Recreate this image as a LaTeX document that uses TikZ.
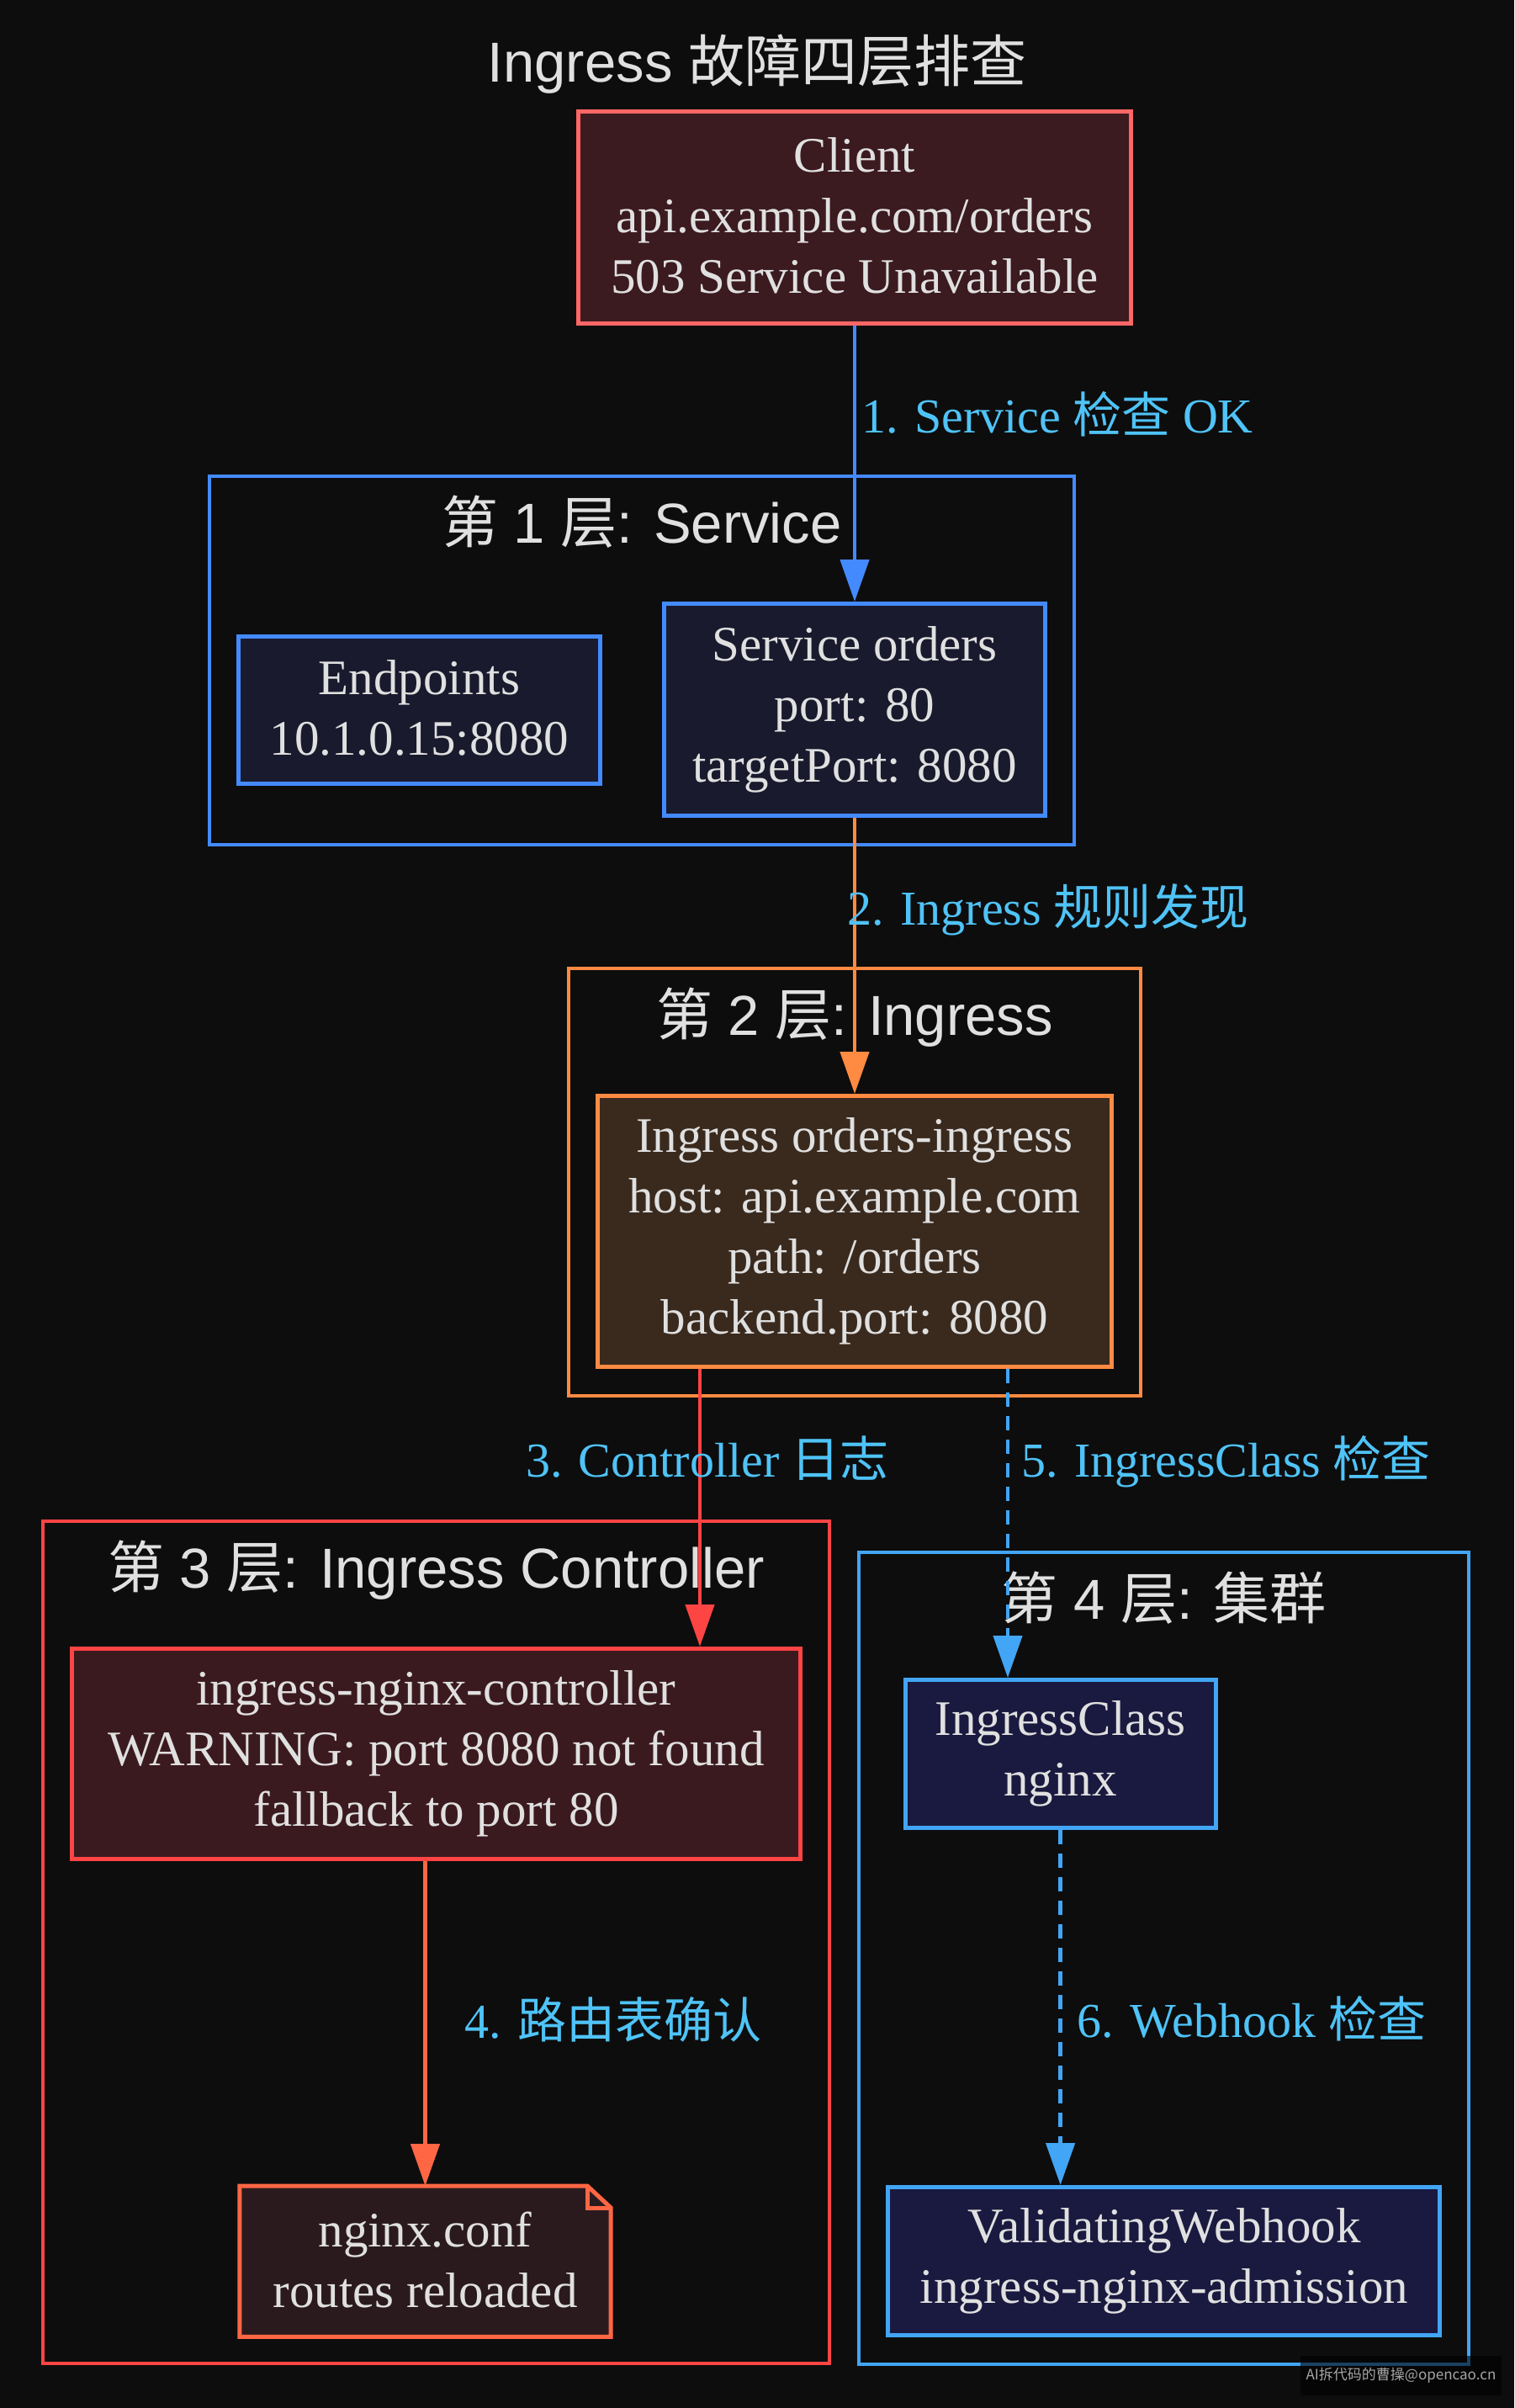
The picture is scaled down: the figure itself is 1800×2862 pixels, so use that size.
\documentclass[tikz,border=0pt]{standalone}
\usepackage{fontspec}
\setmainfont{Liberation Serif}
\setsansfont{Liberation Sans}
\newfontfamily\cjk{Noto Sans CJK SC}
\usetikzlibrary{positioning, fit, arrows.meta}

\newcommand{\zh}[1]{{\cjk #1}}
\newcommand{\boxstrut}{\rule[-4.5pt]{0pt}{68pt}}

\definecolor{bgcol}{HTML}{0D0D0D}
\definecolor{txtcol}{HTML}{E0E0E0}
\definecolor{lblcol}{HTML}{4FC3F7}
\definecolor{clientred}{HTML}{FF6666}
\definecolor{clientfill}{HTML}{3B1A20}
\definecolor{svcblue}{HTML}{448AFF}
\definecolor{svcfill}{HTML}{1A1A2E}
\definecolor{ingorange}{HTML}{FF8A42}
\definecolor{ingfill}{HTML}{3A2A1E}
\definecolor{ctlred}{HTML}{FF4444}
\definecolor{ctlfill}{HTML}{3B1A1F}
\definecolor{notered}{HTML}{FF6644}
\definecolor{notefill}{HTML}{2A1A1E}
\definecolor{clsblue}{HTML}{42A5F5}
\definecolor{clsfill}{HTML}{1A1A40}

\tikzstyle{box} = [rectangle, draw, line width=5pt, text=txtcol, align=center, inner sep=0pt, font=\fontsize{59}{72}\selectfont, execute at begin node=\boxstrut, execute at end node=\boxstrut]
\tikzstyle{notebox} = [rectangle, text=txtcol, align=center, inner sep=0pt, font=\fontsize{59}{72}\selectfont, execute at begin node=\boxstrut, execute at end node=\boxstrut]
\tikzstyle{cluster} = [rectangle, draw, line width=4pt, inner sep=32pt]
\tikzstyle{clusterlabel} = [text=txtcol, anchor=base, inner sep=0pt, font=\sffamily\fontsize{67}{80}\selectfont]
\tikzstyle{arrow} = [line width=4.5pt, ->, >={Triangle[length=50pt, width=34pt]}]
\tikzstyle{dasharrow} = [arrow, dash pattern=on 17pt off 11pt]
\tikzstyle{edgelabel} = [text=lblcol, anchor=base west, inner sep=0pt, font=\fontsize{58}{72}\selectfont]

\begin{document}
\begin{tikzpicture}[x=1pt, y=-1pt]

	% page - - - - - - - - - - - - - - - - - - - - - - - - - - - - - - - - - -
	\useasboundingbox (0,0) rectangle (1800,2862);
	\fill[bgcol] (0,0) rectangle (1800,2862);

	\node(title) [clusterlabel] at (900,97) {Ingress \zh{故障四层排查}};

	% Client
	\node(client) [box, draw=clientred, fill=clientfill, minimum width=657pt, minimum height=252pt] at (1016,258.5)
		{Client\\api.example.com/orders\\503 Service Unavailable};

	% LAYER 1 . . . . . . . . . . . . . . . . . . . . . . . . . . . . . . . . .
	\node(svc) [box, draw=svcblue, fill=svcfill, minimum width=453pt, minimum height=252pt, below=328pt of client]
		{Service orders\\port: 80\\targetPort: 8080};
	\node(endp) [box, draw=svcblue, fill=svcfill, minimum width=430pt, minimum height=175pt, left=71pt of svc]
		{Endpoints\\10.1.0.15:8080};

	% LAYER 2 . . . . . . . . . . . . . . . . . . . . . . . . . . . . . . . . .
	\node(ingress) [box, draw=ingorange, fill=ingfill, minimum width=611pt, minimum height=322pt, below=328pt of svc]
		{Ingress orders-ingress\\host: api.example.com\\path: /orders\\backend.port: 8080};

	% LAYER 3 . . . . . . . . . . . . . . . . . . . . . . . . . . . . . . . . .
	\node(ctrl) [box, draw=ctlred, fill=ctlfill, minimum width=866pt, minimum height=250pt] at (518.5,2084.5)
		{ingress-nginx-controller\\WARNING: port 8080 not found\\fallback to port 80};
	\node(note) [notebox, fill=notefill, minimum width=441pt, minimum height=179pt, below=386pt of ctrl, xshift=-13pt]
		{nginx.conf\\routes reloaded};
	% folded corner
	\fill[bgcol] ([xshift=-28pt]note.north east) -- (note.north east) -- ([yshift=-26pt]note.north east) -- cycle;
	\draw[notered, line width=5pt, line join=miter] (note.north west) -- ([xshift=-28pt]note.north east)
		-- ([yshift=-26pt]note.north east) -- (note.south east) -- (note.south west) -- cycle;
	\draw[notered, line width=5pt] ([xshift=-28pt]note.north east) |- ([yshift=-26pt]note.north east);

	% LAYER 4 . . . . . . . . . . . . . . . . . . . . . . . . . . . . . . . . .
	\node(ic) [box, draw=clsblue, fill=clsfill, minimum width=369pt, minimum height=176pt, right=119.6pt of ctrl]
		{IngressClass\\nginx};
	\node(webhook) [box, draw=clsblue, fill=clsfill, minimum width=656pt, minimum height=176pt, below=422pt of ic, xshift=123.3pt]
		{ValidatingWebhook\\ingress-nginx-admission};

	% Clusters - - - - - - - - - - - - - - - - - - - - - - - - - - - - - - - - -
	\coordinate(c1top) at ([yshift=117pt]svc.north);
	\coordinate(c2top) at ([yshift=117pt]ingress.north);
	\coordinate(c3top) at ([yshift=117pt]ctrl.north);
	\coordinate(c4top) at ([yshift=117pt]ic.north);

	\node(layer1) [cluster, draw=svcblue, fit=(endp)(svc)(c1top)] {};
	\node(layer2) [cluster, draw=ingorange, fit=(ingress)(c2top)] {};
	\node(layer3) [cluster, draw=ctlred, fit=(ctrl)(note)(c3top)] {};
	\node(layer4) [cluster, draw=clsblue, fit=(ic)(webhook)(c4top)] {};

	\node(l1name) [clusterlabel] at ([yshift=-81pt]layer1.north) {\zh{第} 1 \zh{层}: Service};
	\node(l2name) [clusterlabel] at ([yshift=-81pt]layer2.north) {\zh{第} 2 \zh{层}: Ingress};
	\node(l3name) [clusterlabel] at ([yshift=-81pt]layer3.north) {\zh{第} 3 \zh{层}: Ingress Controller};
	\node(l4name) [clusterlabel] at ([yshift=-81pt]layer4.north) {\zh{第} 4 \zh{层}: \zh{集群}};

	% Arrows - - - - - - - - - - - - - - - - - - - - - - - - - - - - - - - - - -
	\draw[arrow, color=svcblue](client)--node[edgelabel, pos=0.39, xshift=6pt]{1. Service \zh{检查} OK}(svc);
	\draw[arrow, color=ingorange](svc)--node[edgelabel, pos=0.39, xshift=-10.5pt]{2. Ingress \zh{规则发现}}(ingress);
	\draw[arrow, color=ctlred]([xshift=-184pt]ingress.south)
		--node[edgelabel, anchor=base, pos=0.39, xshift=9pt]{3. Controller \zh{日志}}([xshift=-184pt]ingress.south |- ctrl.north);
	\draw[arrow, color=notered](ctrl.south -| note.north)--node[edgelabel, pos=0.544, xshift=45pt]{4. \zh{路由表确认}}(note.north);
	\draw[dasharrow, color=clsblue]([xshift=182pt]ingress.south)
		--node[edgelabel, pos=0.35, xshift=14pt]{5. IngressClass \zh{检查}}([xshift=182pt]ingress.south |- ic.north);
	\draw[dasharrow, color=clsblue](ic.south)--node[edgelabel, pos=0.585, xshift=18pt]{6. Webhook \zh{检查}}(ic.south |- webhook.north);

	% watermark
	\node(wmark) [fill=black, fill opacity=0.6, text opacity=1, text=gray!70, minimum width=239pt, minimum height=47pt, inner sep=0pt, font=\cjk\fontsize{17}{20}\selectfont] at (1665.5,2823.5)
		{AI拆代码的曹操@opencao.cn};

\end{tikzpicture}
\end{document}
